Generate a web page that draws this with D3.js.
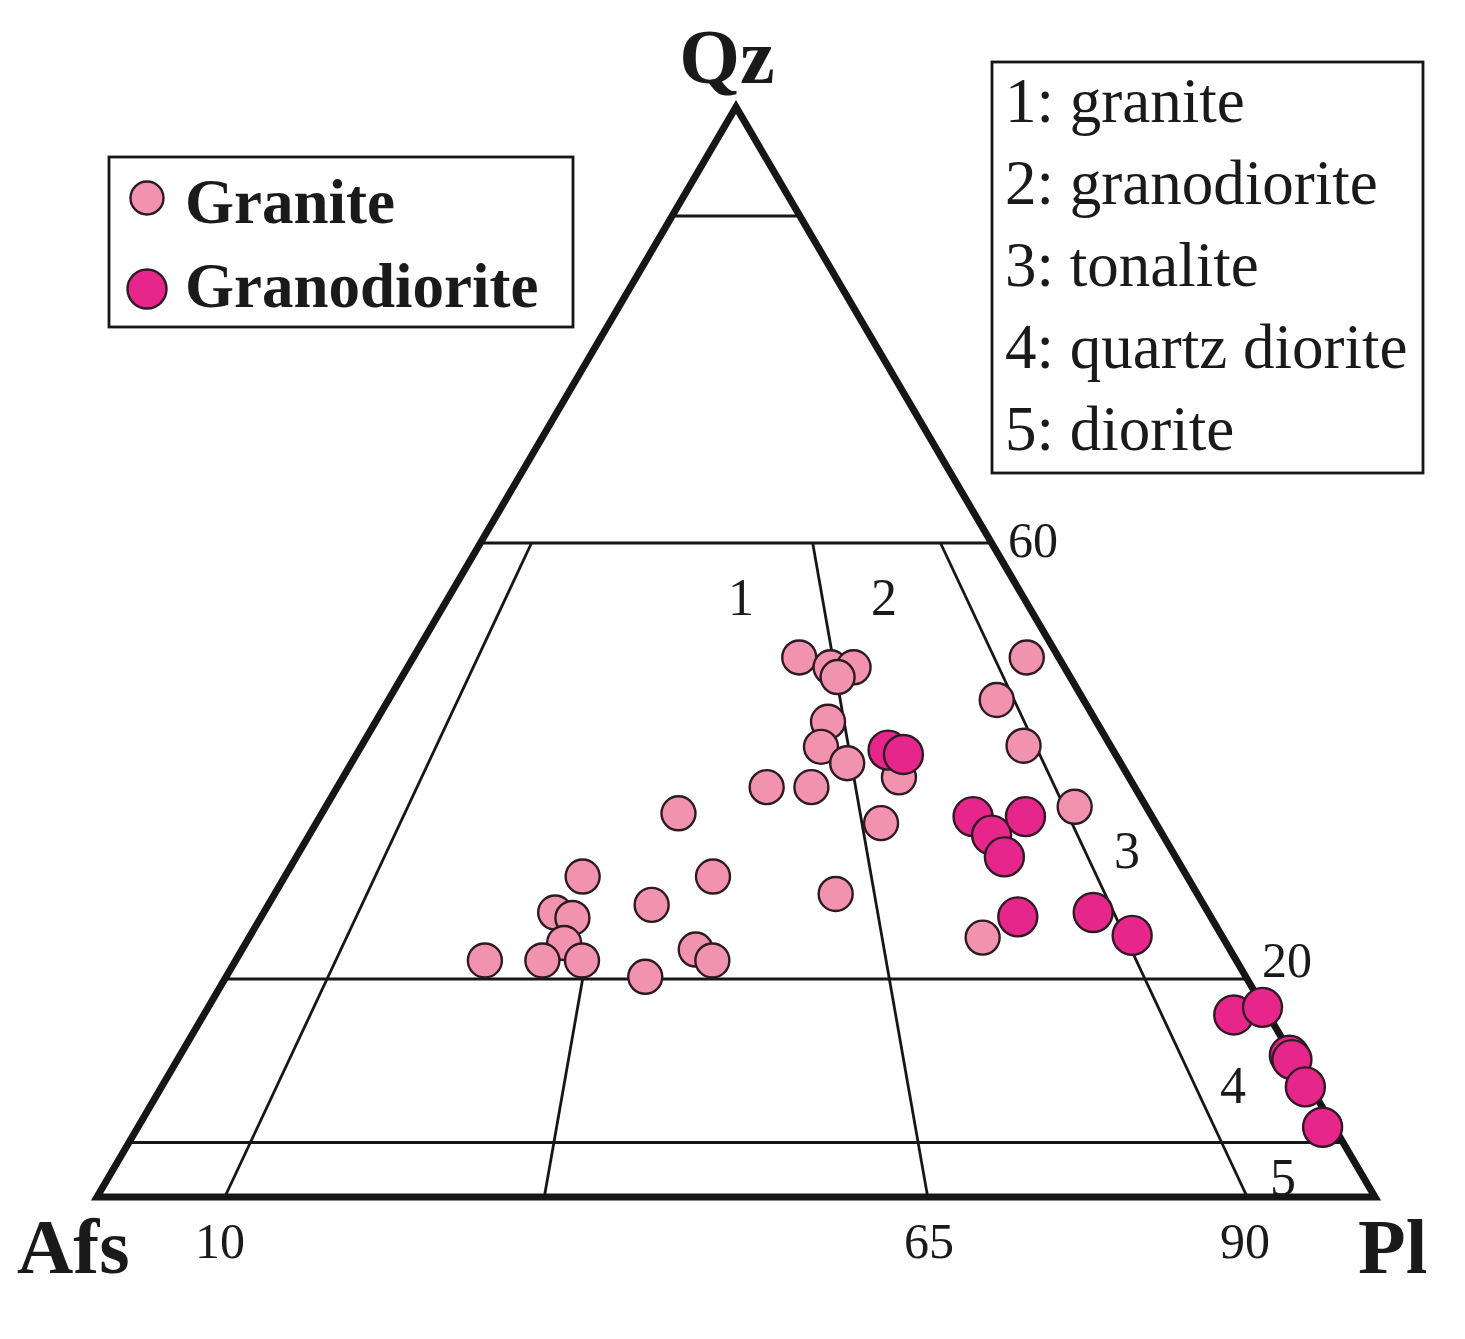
<!DOCTYPE html>
<html><head><meta charset="utf-8">
<script src="https://cdn.jsdelivr.net/npm/d3@7"></script>
<style>body{margin:0;background:#fff}svg{display:block}text{font-family:"Liberation Serif","Times New Roman",serif;fill:#1a1a1a}</style>
</head><body>
<svg id="c" width="1465" height="1339"></svg>
<script>
// ---- data (percent: Qz, Afs, Pl) ----
const granite = [
  [49.5,20.3,30.2],[48.6,18.3,33.1],[48.6,16.5,34.9],[47.7,18.2,34.1],
  [43.6,21.0,35.4],[41.3,22.7,36.0],[39.8,21.4,38.8],[37.6,28.8,33.6],
  [37.6,25.3,37.1],[38.5,18.0,43.5],[34.3,21.5,44.2],[35.2,36.9,27.9],
  [29.4,47.3,23.3],[29.4,37.1,33.5],[26.8,43.2,30.0],[26.1,51.1,22.8],
  [25.6,50.0,24.4],[23.3,51.8,24.9],[21.7,58.8,19.5],[21.7,54.3,24.0],
  [21.7,51.2,27.1],[20.2,47.0,32.8],[22.7,41.8,35.5],[21.7,41.0,37.3],
  [27.8,28.3,43.9],[49.5,2.5,48.0],[45.6,6.8,47.6],[41.4,6.8,51.8],
  [35.8,5.6,58.6],[23.8,18.8,57.4]
];
const granodiorite = [
  [41.0,17.6,41.4],[40.6,16.6,42.8],[34.9,14.0,51.1],[33.2,13.4,53.4],
  [34.9,9.9,55.2],[31.2,13.4,55.4],[25.7,15.1,59.2],[26.1,9.0,64.9],
  [24.0,7.0,69.0],[16.7,2.7,80.6],[17.4,0.1,82.5],[13.0,0.2,86.8],
  [12.6,0.2,87.2],[10.1,0.4,89.5],[6.4,0.9,92.7]
];
// field boundaries
const qzLines = [90, 60, 20, 5];                       // horizontal Qz lines
const ratioLines = [[10, 60], [35, 20], [65, 60], [90, 60]]; // [Pl/(Afs+Pl)%, top Qz]
const baseTicks = ["10", "65", "90"];
const sideTicks = ["60", "20"];
const fieldNums = ["1", "2", "3", "4", "5"];
const legendSamples = ["Granite", "Granodiorite"];
const fieldNames = ["1: granite", "2: granodiorite", "3: tonalite", "4: quartz diorite", "5: diorite"];
const vertices = ["Qz", "Afs", "Pl"];

// ---- scales ----
const xS = d3.scaleLinear().domain([0, 100]).range([97, 1375]);
const yS = d3.scaleLinear().domain([0, 100]).range([1197, 107]);
function pt(qz, afs, pl) {
  const s = qz + afs + pl;
  const q = qz / s * 100, p = pl / s * 100;
  return [xS(p + q / 2), yS(q)];
}

const svg = d3.select("#c");
const ink = "#161616";

// horizontal lines
qzLines.forEach(q => {
  const a = pt(q, 100 - q, 0), b = pt(q, 0, 100 - q);
  svg.append("line").attr("x1", a[0]).attr("y1", a[1]).attr("x2", b[0]).attr("y2", b[1])
    .attr("stroke", ink).attr("stroke-width", 3.2);
});
// radial lines
ratioLines.forEach(([r, top]) => {
  const a = pt(0, 100 - r, r), b = pt(top, (100 - top) * (100 - r) / 100, (100 - top) * r / 100);
  svg.append("line").attr("x1", a[0]).attr("y1", a[1]).attr("x2", b[0]).attr("y2", b[1])
    .attr("stroke", ink).attr("stroke-width", 2.8);
});
// outer triangle
const tri = [pt(0, 100, 0), pt(0, 0, 100), pt(100, 0, 0)];
svg.append("path").attr("d", d3.line()(tri) + "Z").attr("fill", "none")
  .attr("stroke", ink).attr("stroke-width", 7).attr("stroke-linejoin", "miter");

// points
const gFill = "#f193ae", gdFill = "#e6268a", pStroke = "#2e1a24";
svg.append("g").selectAll("circle").data(granite).join("circle")
  .attr("cx", d => pt(...d)[0]).attr("cy", d => pt(...d)[1]).attr("r", 17)
  .attr("fill", gFill).attr("stroke", pStroke).attr("stroke-width", 2.4);
svg.append("g").selectAll("circle").data(granodiorite).join("circle")
  .attr("cx", d => pt(...d)[0]).attr("cy", d => pt(...d)[1]).attr("r", 19.5)
  .attr("fill", gdFill).attr("stroke", pStroke).attr("stroke-width", 2.4);

// field numbers
const numPos = [[741, 615], [884, 615], [1127, 868], [1233, 1103], [1283, 1195]];
fieldNums.forEach((t, i) => svg.append("text").attr("x", numPos[i][0]).attr("y", numPos[i][1])
  .attr("text-anchor", "middle").attr("font-size", 52).text(t));
// tick labels
const basePos = [220, 929, 1245];
baseTicks.forEach((t, i) => svg.append("text").attr("x", basePos[i]).attr("y", 1258)
  .attr("text-anchor", "middle").attr("font-size", 50).text(t));
const sidePos = [[1008, 557], [1262, 977]];
sideTicks.forEach((t, i) => svg.append("text").attr("x", sidePos[i][0]).attr("y", sidePos[i][1])
  .attr("font-size", 50).text(t));
// vertex labels
const vPos = [[727, 83, "middle"], [17, 1273, "start"], [1358, 1273, "start"]];
vertices.forEach((t, i) => svg.append("text").attr("x", vPos[i][0]).attr("y", vPos[i][1])
  .attr("text-anchor", vPos[i][2]).attr("font-size", 78).attr("font-weight", "bold").text(t));

// legend 1
svg.append("rect").attr("x", 109).attr("y", 157).attr("width", 464).attr("height", 170)
  .attr("fill", "#fff").attr("stroke", ink).attr("stroke-width", 2.8);
const lg = [[198, 16.5, gFill, 223], [289, 19.5, gdFill, 307]];
legendSamples.forEach((t, i) => {
  svg.append("circle").attr("cx", 147).attr("cy", lg[i][0]).attr("r", lg[i][1])
    .attr("fill", lg[i][2]).attr("stroke", pStroke).attr("stroke-width", 2.4);
  svg.append("text").attr("x", 185).attr("y", lg[i][3]).attr("font-size", 63)
    .attr("font-weight", "bold").text(t);
});
// legend 2
svg.append("rect").attr("x", 992).attr("y", 62).attr("width", 431).attr("height", 411)
  .attr("fill", "#fff").attr("stroke", ink).attr("stroke-width", 2.8);
fieldNames.forEach((t, i) => svg.append("text").attr("x", 1005).attr("y", 122 + i * 82)
  .attr("font-size", 63).text(t));
</script>
</body></html>
